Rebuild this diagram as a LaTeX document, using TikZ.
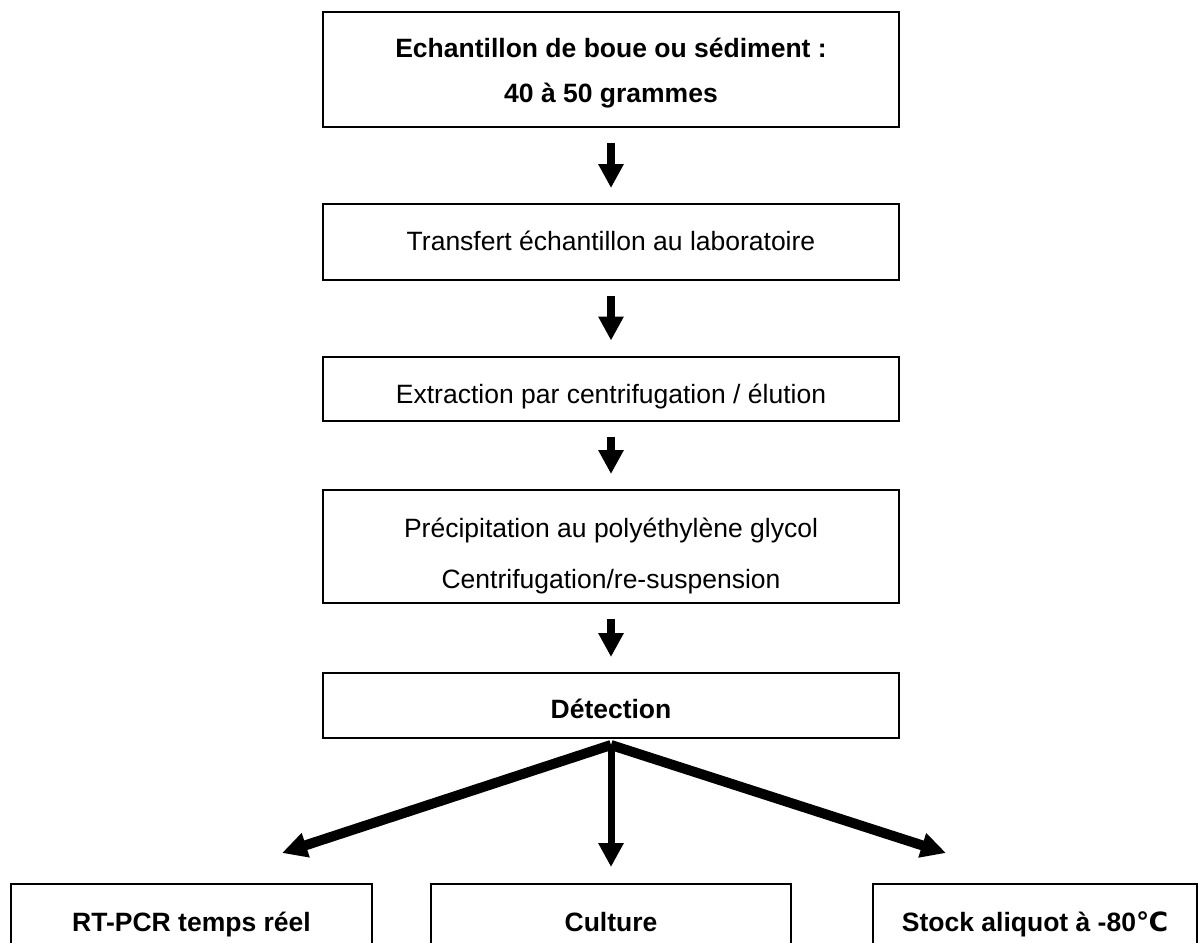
\documentclass[tikz,border=0pt]{standalone}
\usepackage{fontspec}
\setmainfont{Liberation Sans}
\newfontfamily\degfont{DejaVu Sans}
\usetikzlibrary {positioning}
\usetikzlibrary{arrows.meta}

\begin{document}
\begin{tikzpicture}[%
  x=0.5pt, y=-0.5pt,
  stage/.style={draw, line width=1pt, inner sep=0pt, align=center,
    minimum width=288pt, font=\fontsize{13.25}{22.5}\selectfont},
  result/.style={stage, font=\fontsize{13.25}{22.5}\selectfont\bfseries},
  flow/.style={-{Triangle[width=12pt,length=12pt]}, line width=4pt,
    shorten <=7.5pt, shorten >=7.5pt},
  branch/.style={-{Triangle[width=12pt,length=12.5pt]}, line width=5pt},
]

  \useasboundingbox (0,0) rectangle (1198,942);
  \clip (0,0) rectangle (1198,942);

  \node[result, minimum height=57.5pt, text height=32.5pt, text depth=0pt]
    (sample) at (611,69.5)
    {Echantillon de boue ou sédiment :\\ 40 à 50 grammes};
  \node[stage, minimum height=38pt, text height=8pt, text depth=0pt]
    (transfer) at (611,242)
    {Transfert échantillon au laboratoire};
  \node[stage, minimum height=32pt, text height=14.5pt, text depth=0pt]
    (extract) at (611,388.5)
    {Extraction par centrifugation / élution};
  \node[stage, minimum height=56.5pt, text height=41.5pt, text depth=0pt]
    (precip) at (611,546.5)
    {Précipitation au polyéthylène glycol\\[3pt] Centrifugation/re-suspension};
  \node[result, minimum height=32.5pt, text height=12.5pt, text depth=0pt]
    (detect) at (611,705.5) {Détection};

  \draw[flow] (sample.south) -- (transfer.north);
  \draw[flow] (transfer.south) -- (extract.north);
  \draw[flow] (extract.south) -- (precip.north);
  \draw[flow] (precip.south) -- (detect.north);

  % detection methods
  \tikzset{every node/.append style={text height=9pt, text depth=0pt}}
  \node[result, minimum width=180.5pt, minimum height=38pt] (rtpcr) at (191.5,922)
    {RT-PCR temps réel};
  \node[result, minimum width=180pt, minimum height=38pt] (culture) at (611,922)
    {Culture};
  \node[result, minimum width=162pt, minimum height=38pt] (stock) at (1035,922)
    {Stock aliquot à -80{\degfont ℃}};

  \coordinate (split) at (611,745);
  \coordinate (tipL) at (282,853);
  \coordinate (tipR) at (946,853);

  \draw[branch] (split) -- (tipL);
  \draw[branch] (split) -- (tipR);
  \draw[flow, line width=3.5pt, shorten <=0pt, shorten >=8pt] (split) -- (culture.north);

\end{tikzpicture}
\end{document}
